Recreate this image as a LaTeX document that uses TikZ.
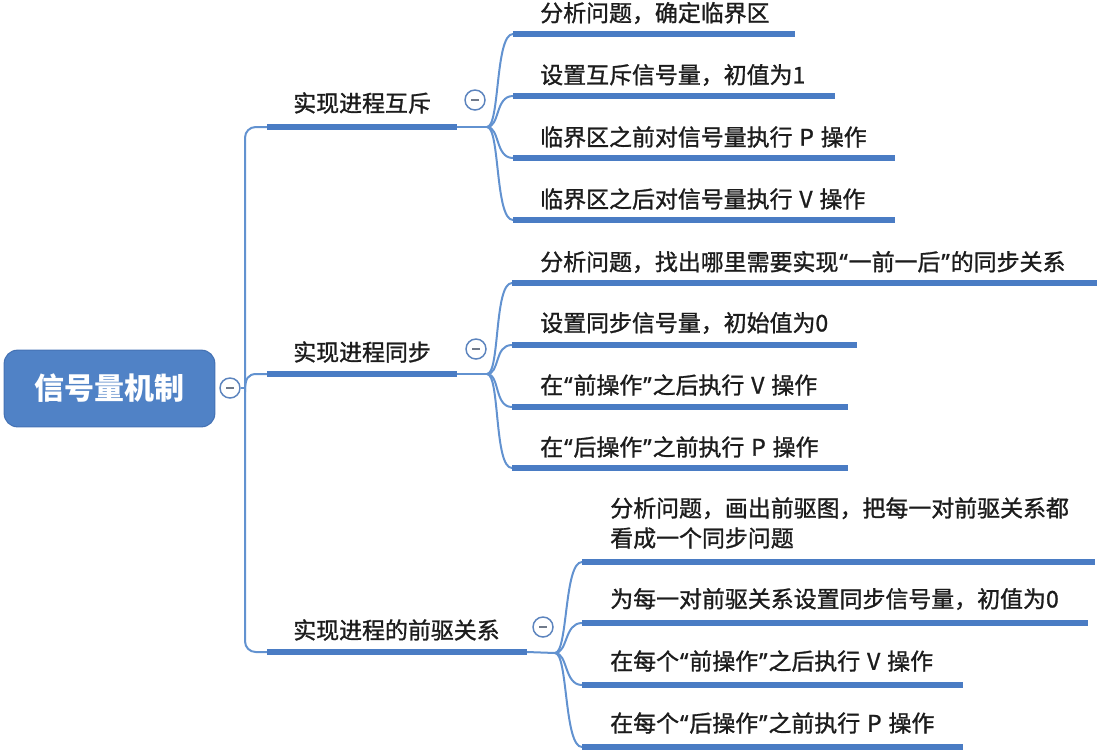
\documentclass[tikz,border=0pt]{standalone}
\usepackage{fontspec}
\setmainfont{Noto Sans CJK SC}
\newfontfamily\bodyfont{Noto Sans CJK SC}[FakeBold=1.2]
\newfontfamily\latinq{Noto Sans}[FakeBold=1.2]
\newcommand\qL{\makebox[0.45em][c]{\latinq “}}
\newcommand\qR{\makebox[0.45em][c]{\latinq ”}}
\newcommand\gapsp{\hspace{0.3em}}
\definecolor{barc}{RGB}{74,124,196}
\definecolor{linec}{RGB}{98,146,208}
\definecolor{rootc}{RGB}{80,130,198}
\definecolor{rootb}{RGB}{68,114,180}
\definecolor{foldc}{RGB}{92,132,190}
\definecolor{foldm}{RGB}{112,122,138}
\definecolor{textc}{RGB}{28,28,28}
\begin{document}
\begin{tikzpicture}[x=0.75pt,y=-0.75pt,
  txt/.style={anchor=west, inner sep=0pt, text=textc, align=left,
    font=\bodyfont\fontsize{17.2pt}{22.5pt}\selectfont},
  bar/.style={line width=3.8pt, draw=barc},
  thin/.style={line width=1.5pt, draw=linec},
  fold/.style={circle, draw=foldc, line width=1.1pt, minimum size=15pt, inner sep=0pt, fill=white,
    path picture={\draw[foldm, line width=1.1pt] ([xshift=-3pt]path picture bounding box.center) -- ([xshift=3pt]path picture bounding box.center);}},
  rootbox/.style={rectangle, rounded corners=10pt, fill=rootc, draw=rootb, line width=0.8pt,
    minimum width=158pt, minimum height=57.5pt, text=white,
    font=\fontsize{22.5pt}{26pt}\selectfont\bfseries}
  ]
\useasboundingbox (0,0) rectangle (1104,751);

% root
\node[rootbox] (root) at (109.5,388.5) {信号量机制};
\node[fold] (cr) at (230,388) {};
\coordinate (tr) at (245,388);
\draw[thin] (cr.east) -- (tr);

% level-1 coordinates
\coordinate (aS) at (267,127); \coordinate (aE) at (457,127); \coordinate (aO) at (487,127);
\coordinate (bS) at (267,374); \coordinate (bE) at (457,374); \coordinate (bO) at (487,374);
\coordinate (cS) at (267,652); \coordinate (cE) at (527,652); \coordinate (cO) at (555,653);
\coordinate (tb) at (245,392);

% trunk
\draw[thin, rounded corners=8] (aS) -- (245,127) -- (245,652) -- (cS);
\draw[thin] (tb) .. controls (245,378) and (248,374) .. (257,374) -- (bS);

% level-1 bars
\draw[bar] (aS) -- (aE); \draw[thin] (aE) -- (aO);
\draw[bar] (bS) -- (bE); \draw[thin] (bE) -- (bO);
\draw[bar] (cS) -- (cE); \draw[thin] (cE) -- (cO);

\node[txt] (a) at (293,103) {实现进程互斥};
\node[txt] (b) at (293,352) {实现进程同步};
\node[txt] (c) at (293,630) {实现进程的前驱关系};

\node[fold] (fa) at (475,100) {};
\node[fold] (fb) at (476,349) {};
\node[fold] (fc) at (543,627) {};

% group 1
\foreach \n/\y/\e in {1/34/795, 2/96/835, 3/158/895, 4/220/895}{
  \coordinate (a\n S) at (513,\y); \coordinate (a\n E) at (\e,\y);
  \draw[thin] (aO) .. controls +(13,0) and +(-18,0) .. (a\n S);
  \draw[bar] (a\n S) -- (a\n E);
}
\node[txt] (a1) at (540,13) {分析问题，确定临界区};
\node[txt] (a2) at (540,75) {设置互斥信号量，初值为1};
\node[txt] (a3) at (540,137) {临界区之前对信号量执行\gapsp P\gapsp 操作};
\node[txt] (a4) at (540,199) {临界区之后对信号量执行\gapsp V\gapsp 操作};

% group 2
\foreach \n/\y/\e in {1/283/1097, 2/345/857, 3/407/848, 4/468/848}{
  \coordinate (b\n S) at (512,\y); \coordinate (b\n E) at (\e,\y);
  \draw[thin] (bO) .. controls +(13,0) and +(-18,0) .. (b\n S);
  \draw[bar] (b\n S) -- (b\n E);
}
\node[txt] (b1) at (540,262) {分析问题，找出哪里需要实现\qL 一前一后\qR 的同步关系};
\node[txt] (b2) at (540,323) {设置同步信号量，初始值为0};
\node[txt] (b3) at (540,385) {在\qL 前操作\qR 之后执行\gapsp V\gapsp 操作};
\node[txt] (b4) at (540,447) {在\qL 后操作\qR 之前执行\gapsp P\gapsp 操作};

% group 3
\foreach \n/\y/\e in {1/562/1095, 2/623/1088, 3/685/963, 4/747/963}{
  \coordinate (c\n S) at (582,\y); \coordinate (c\n E) at (\e,\y);
  \draw[thin] (cO) .. controls +(13,0) and +(-18,0) .. (c\n S);
  \draw[bar] (c\n S) -- (c\n E);
}
\node[txt] (c1) at (610,523) {分析问题，画出前驱图，把每一对前驱关系都\\看成一个同步问题};
\node[txt] (c2) at (610,599) {为每一对前驱关系设置同步信号量，初值为0};
\node[txt] (c3) at (610,661) {在每个\qL 前操作\qR 之后执行\gapsp V\gapsp 操作};
\node[txt] (c4) at (610,723) {在每个\qL 后操作\qR 之前执行\gapsp P\gapsp 操作};
\end{tikzpicture}
\end{document}
